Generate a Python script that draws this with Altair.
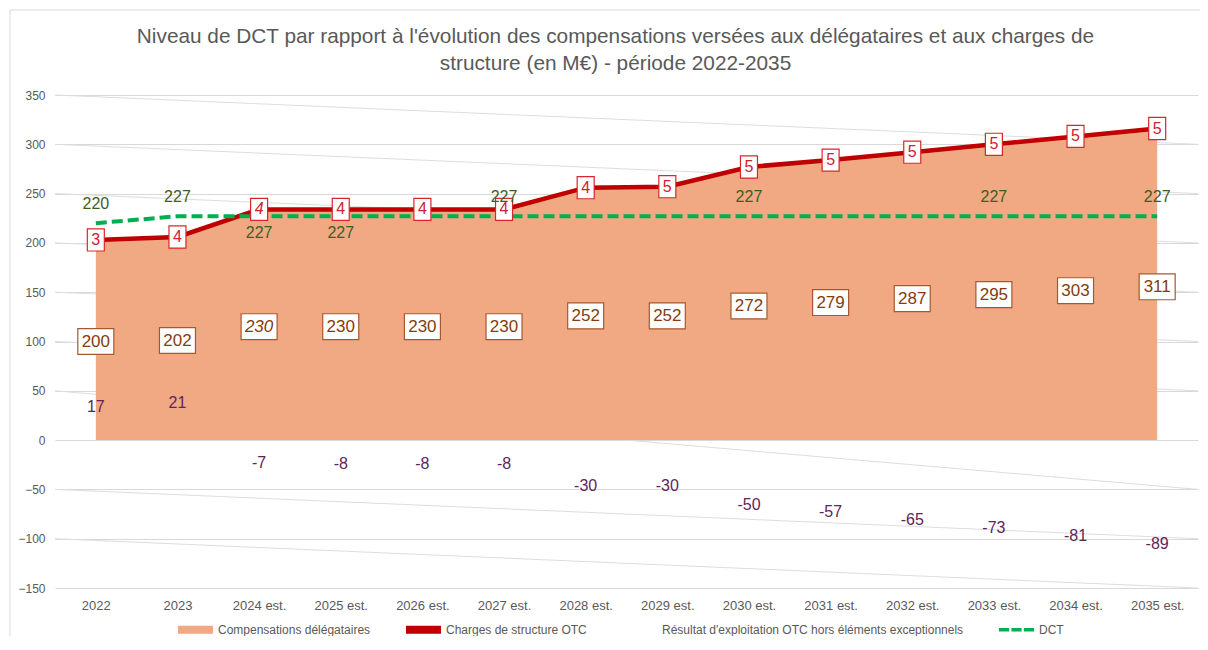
import altair as alt
import pandas as pd

YEARS = ["2022", "2023", "2024 est.", "2025 est.", "2026 est.", "2027 est.", "2028 est.",
         "2029 est.", "2030 est.", "2031 est.", "2032 est.", "2033 est.", "2034 est.", "2035 est."]
COMPENSATIONS = [200, 202, 230, 230, 230, 230, 252, 252, 272, 279, 287, 295, 303, 311]
CHARGES = [3, 4, 4, 4, 4, 4, 4, 5, 5, 5, 5, 5, 5, 5]
RESULTAT = [17, 21, -7, -8, -8, -8, -30, -30, -50, -57, -65, -73, -81, -89]
DCT = [220, 227, 227, 227, 227, 227, 227, 227, 227, 227, 227, 227, 227, 227]

DCT_LABELS_ABOVE = ["2022", "2023", "2027 est.", "2030 est.", "2033 est.", "2035 est."]
DCT_LABELS_BELOW = ["2024 est.", "2025 est."]
ITALIC_YEARS = ["2024 est."]

SERIES = ["Compensations délégataires", "Charges de structure OTC",
          "Résultat d'exploitation OTC hors éléments exceptionnels", "DCT"]
Y_TICKS = [-150, -100, -50, 0, 50, 100, 150, 200, 250, 300, 350]
SKEW_START = [350, 300, 250, 200, 150, 100, 50, -50, -100]
SKEW_END = [300, 250, 200, 150, 100, 50, -50, -100, -150]

TITLE = ["Niveau de DCT par rapport à l'évolution des compensations versées aux délégataires et aux charges de",
         "structure (en M€) - période 2022-2035"]

FONT = "Liberation Sans"
GRAY = "#595959"
W, H = 1143, 493

df = pd.DataFrame({
    "year": YEARS,
    "comp": COMPENSATIONS,
    "charges": CHARGES,
    "res": RESULTAT,
    "dct": DCT,
})
df["top"] = df["comp"] + df["charges"]
df["half"] = df["comp"] / 2
df["italic"] = df["year"].isin(ITALIC_YEARS)
df["comp_s"] = df["comp"].astype(str)
df["charges_s"] = df["charges"].astype(str)
df["res_s"] = df["res"].astype(str)
df["dct_s"] = df["dct"].astype(str)

skew = pd.DataFrame({"start": SKEW_START, "end": SKEW_END})
leg = pd.DataFrame({"series": SERIES})

yscale = alt.Scale(domain=[-150, 350], nice=False, zero=False)
xscale = alt.Scale(type="point", padding=0.5)

X = alt.X("year:N", sort=YEARS, scale=xscale, title=None)


def Yf(field):
    return alt.Y(field, type="quantitative", scale=yscale, title=None,
                 axis=alt.Axis(values=Y_TICKS))


base = alt.Chart(df)

skew_rules = alt.Chart(skew).mark_rule(color="#DDDDDD", strokeWidth=1).encode(
    x=alt.value(0), x2=alt.value("width"),
    y=Yf("start"), y2="end:Q")

area = base.mark_area(color="#F1A983", opacity=1).encode(x=X, y=Yf("top"))

red_line = base.mark_line(color="#C00000", strokeWidth=4.5).encode(x=X, y=Yf("top"))

dct_line = base.mark_line(color="#00B050", strokeWidth=4, strokeDash=[11, 5]).encode(x=X, y=Yf("dct"))

comp_box = base.mark_point(shape="M-1,-0.72H1V0.72H-1Z", size=1296, filled=True, fill="white",
                           stroke="#A9572E", strokeWidth=1.2, opacity=1).encode(x=X, y=Yf("half"))
comp_txt_n = base.mark_text(font=FONT, fontSize=17, color="#843C0C").encode(
    x=X, y=Yf("half"), text="comp_s:N").transform_filter("!datum.italic")
comp_txt_i = base.mark_text(font=FONT, fontSize=17, color="#843C0C", fontStyle="italic").encode(
    x=X, y=Yf("half"), text="comp_s:N").transform_filter("datum.italic")

red_box = base.mark_point(shape="M-1,-1.3H1V1.3H-1Z", size=289, filled=True, fill="white",
                          stroke="#D9262B", strokeWidth=1.2, opacity=1).encode(x=X, y=Yf("top"))
red_txt_n = base.mark_text(font=FONT, fontSize=16, color="#D0202E").encode(
    x=X, y=Yf("top"), text="charges_s:N").transform_filter("!datum.italic")
red_txt_i = base.mark_text(font=FONT, fontSize=16, color="#D0202E", fontStyle="italic").encode(
    x=X, y=Yf("top"), text="charges_s:N").transform_filter("datum.italic")

dct_above = base.mark_text(font=FONT, fontSize=16, color="#3B5E22", dy=-19).encode(
    x=X, y=Yf("dct"), text="dct_s:N").transform_filter(
    alt.FieldOneOfPredicate(field="year", oneOf=DCT_LABELS_ABOVE))
dct_below = base.mark_text(font=FONT, fontSize=16, color="#3B5E22", dy=17).encode(
    x=X, y=Yf("dct"), text="dct_s:N").transform_filter(
    alt.FieldOneOfPredicate(field="year", oneOf=DCT_LABELS_BELOW))

res_pos = base.mark_text(font=FONT, fontSize=16, color="#612559", dy=-16).encode(
    x=X, y=Yf("res"), text="res_s:N").transform_filter("datum.res >= 0")
res_neg = base.mark_text(font=FONT, fontSize=16, color="#612559", dy=16).encode(
    x=X, y=Yf("res"), text="res_s:N").transform_filter("datum.res < 0")

RECT = "M-1,-0.23H1V0.23H-1Z"
DASHES = "M-1,-0.1H-0.42V0.1H-1Z M-0.29,-0.1H0.29V0.1H-0.29Z M0.42,-0.1H1V0.1H0.42Z"
legend_params = dict(orient="none", legendX=123, legendY=517, direction="horizontal",
                     title=None, labelFont=FONT, labelFontSize=12, labelColor=GRAY,
                     symbolSize=1225, symbolOpacity=1, symbolStrokeWidth=0,
                     columnPadding=35, labelOffset=5, columns=4, labelLimit=500)
legend_layer = alt.Chart(leg).mark_point(filled=True, opacity=0).encode(
    color=alt.Color("series:N", sort=SERIES,
                    scale=alt.Scale(domain=SERIES, range=["#F1A983", "#C00000", "#FFFFFF", "#00B050"]),
                    legend=alt.Legend(**legend_params)),
    shape=alt.Shape("series:N", sort=SERIES,
                    scale=alt.Scale(domain=SERIES, range=[RECT, RECT, "M0,0", DASHES]),
                    legend=alt.Legend(**legend_params)),
)

one = pd.DataFrame({"a": [0]})
frame_left = alt.Chart(one).mark_rule(color="#D9D9D9", strokeWidth=1).encode(
    x=alt.value(-45), y=alt.value(-85), y2=alt.value(H + 60))
frame_top = alt.Chart(one).mark_rule(color="#D9D9D9", strokeWidth=1).encode(
    x=alt.value(-45), x2=alt.value(W + 10), y=alt.value(-85))

chart = alt.layer(
    skew_rules, area, red_line, dct_line,
    comp_box, comp_txt_n, comp_txt_i,
    red_box, red_txt_n, red_txt_i,
    dct_above, dct_below, res_pos, res_neg,
    legend_layer, frame_left, frame_top,
).resolve_scale(color="independent", shape="independent").properties(
    width=W, height=H,
    autosize=alt.AutoSizeParams(type="none"),
    padding={"left": 47, "top": 87, "right": 2, "bottom": 48},
    title=alt.TitleParams(text=TITLE, font=FONT, fontSize=20.8, fontWeight="normal", color=GRAY,
                          anchor="middle", frame="group", lineHeight=27, offset=-65, dx=-11),
).configure_view(stroke=None).configure_axisX(
    labelAngle=0, ticks=False, domain=False, grid=False,
    labelFont=FONT, labelFontSize=13, labelColor=GRAY, labelPadding=11,
).configure_axisY(
    ticks=False, domain=False, grid=True, gridColor="#D9D9D9", gridWidth=1,
    labelFont=FONT, labelFontSize=12, labelColor=GRAY, labelPadding=10,
)

chart.save("out.html", embed_options={"renderer": "svg", "actions": False})
